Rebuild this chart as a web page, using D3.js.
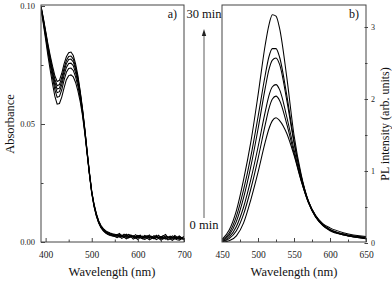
<!DOCTYPE html>
<html><head><meta charset="utf-8">
<script src="https://cdn.jsdelivr.net/npm/d3@7"></script>
<style>
html,body{margin:0;padding:0;background:#fff;}
svg, svg text{font-family:"Liberation Serif","Times New Roman",Tinos,"DejaVu Serif","Noto Serif",serif !important;}
</style></head>
<body>
<svg id="chart" width="392" height="281"></svg>
<script>
// ---- Panel a: absorbance ----
const absWl = [390,395,400,405,410,415,420,425,430,435,440,445,450,455,460,465,470,475,480,485,490,495,500,505,510,515,520,525,530,535,540,545,550,
  555,560,565,570,575,580,585,590,595,600,605,610,615,620,625,630,635,640,645,650,655,660,665,670,675,680,685,690,695,700];
const abs30 = [0.1000,0.0950,0.0895,0.0840,0.0790,0.0745,0.0705,0.0680,0.0685,0.0715,0.0755,0.0785,0.0802,0.0805,0.0790,0.0755,0.0705,0.0640,0.0565,0.0480,0.0385,0.0295,0.0215,0.0160,0.0120,0.0090,0.0070,0.0057,0.0048,0.0042,0.0038,0.0035,0.0033,
  0.0030,0.0036,0.0026,0.0033,0.0025,0.0032,0.0027,0.0022,0.0031,0.0023,0.0029,0.0020,0.0028,0.0022,0.0030,0.0019,0.0027,0.0021,0.0029,0.0018,0.0026,0.0032,0.0019,0.0025,0.0017,0.0028,0.0020,0.0026,0.0016,0.0024];
const abs24 = [0.0998,0.0946,0.0890,0.0832,0.0780,0.0732,0.0690,0.0662,0.0667,0.0697,0.0737,0.0769,0.0786,0.0788,0.0775,0.0742,0.0695,0.0634,0.0560,0.0477,0.0383,0.0293,0.0214,0.0158,0.0118,0.0088,0.0068,0.0055,0.0046,0.0040,0.0036,0.0033,0.0031,
  0.0027,0.0031,0.0024,0.0028,0.0033,0.0022,0.0027,0.0024,0.0020,0.0028,0.0021,0.0025,0.0019,0.0027,0.0021,0.0024,0.0018,0.0029,0.0020,0.0023,0.0017,0.0025,0.0021,0.0018,0.0026,0.0019,0.0016,0.0023,0.0018,0.0021];
const abs18 = [0.0996,0.0942,0.0884,0.0825,0.0771,0.0721,0.0677,0.0648,0.0652,0.0682,0.0723,0.0756,0.0773,0.0775,0.0763,0.0731,0.0686,0.0628,0.0556,0.0474,0.0381,0.0291,0.0212,0.0156,0.0116,0.0086,0.0066,0.0053,0.0044,0.0038,0.0034,0.0031,0.0029,
  0.0032,0.0025,0.0029,0.0023,0.0027,0.0031,0.0021,0.0026,0.0019,0.0024,0.0028,0.0018,0.0023,0.0020,0.0026,0.0017,0.0022,0.0025,0.0016,0.0021,0.0027,0.0018,0.0015,0.0022,0.0019,0.0024,0.0016,0.0020,0.0017,0.0014];
const abs12 = [0.0994,0.0938,0.0878,0.0817,0.0761,0.0709,0.0664,0.0633,0.0637,0.0666,0.0707,0.0740,0.0756,0.0758,0.0747,0.0717,0.0675,0.0620,0.0551,0.0470,0.0378,0.0289,0.0210,0.0154,0.0114,0.0084,0.0064,0.0051,0.0042,0.0036,0.0032,0.0029,0.0027,
  0.0024,0.0029,0.0022,0.0026,0.0020,0.0025,0.0030,0.0019,0.0023,0.0017,0.0025,0.0020,0.0016,0.0022,0.0018,0.0024,0.0015,0.0020,0.0017,0.0023,0.0014,0.0019,0.0022,0.0016,0.0013,0.0020,0.0017,0.0014,0.0019,0.0015];
const abs6 = [0.0992,0.0933,0.0870,0.0806,0.0748,0.0694,0.0646,0.0613,0.0617,0.0645,0.0686,0.0719,0.0735,0.0737,0.0727,0.0700,0.0660,0.0610,0.0545,0.0466,0.0376,0.0287,0.0208,0.0152,0.0112,0.0082,0.0062,0.0049,0.0040,0.0034,0.0030,0.0027,0.0025,
  0.0028,0.0021,0.0025,0.0019,0.0023,0.0017,0.0022,0.0026,0.0016,0.0021,0.0018,0.0014,0.0020,0.0023,0.0015,0.0019,0.0013,0.0018,0.0021,0.0014,0.0017,0.0012,0.0019,0.0015,0.0020,0.0013,0.0016,0.0012,0.0017,0.0013];
const abs0 = [0.0990,0.0925,0.0858,0.0790,0.0728,0.0670,0.0618,0.0584,0.0587,0.0614,0.0653,0.0688,0.0705,0.0708,0.0700,0.0676,0.0640,0.0595,0.0535,0.0460,0.0372,0.0285,0.0206,0.0150,0.0110,0.0080,0.0060,0.0047,0.0038,0.0032,0.0028,0.0025,0.0023,
  0.0018,0.0024,0.0015,0.0021,0.0013,0.0019,0.0023,0.0012,0.0018,0.0010,0.0020,0.0014,0.0011,0.0017,0.0009,0.0015,0.0019,0.0010,0.0016,0.0008,0.0014,0.0017,0.0009,0.0013,0.0007,0.0015,0.0010,0.0008,0.0014,0.0009];
const absSeries = [abs30, abs24, abs18, abs12, abs6, abs0];
const absXTicks = [400,500,600,700];
const absXMinor = [450,550,650];
const absYTicks = [0.00,0.05,0.10];
const absYMinor = [0.025,0.075];

// ---- Panel b: PL ----
const plWl = [450,460,470,480,490,500,510,515,520,525,530,540,550,560,570,580,590,600,620,650];
const pl1 = [0.05,0.18,0.45,0.88,1.40,2.05,2.75,3.02,3.17,3.15,2.98,2.30,1.50,0.95,0.58,0.38,0.27,0.21,0.14,0.09];
const pl2 = [0.04,0.14,0.37,0.74,1.20,1.75,2.33,2.58,2.70,2.70,2.58,2.05,1.42,0.93,0.58,0.38,0.26,0.19,0.12,0.08];
const pl3 = [0.03,0.11,0.30,0.63,1.06,1.58,2.15,2.40,2.54,2.57,2.48,1.98,1.39,0.92,0.58,0.37,0.25,0.18,0.12,0.07];
const pl4 = [0.02,0.08,0.23,0.50,0.88,1.33,1.82,2.04,2.17,2.20,2.13,1.75,1.30,0.88,0.57,0.37,0.25,0.18,0.11,0.07];
const pl5 = [0.015,0.06,0.17,0.40,0.75,1.17,1.64,1.86,2.00,2.04,1.98,1.65,1.25,0.87,0.56,0.36,0.25,0.18,0.11,0.06];
const pl6 = [0.01,0.03,0.10,0.28,0.60,0.98,1.40,1.58,1.70,1.74,1.70,1.52,1.22,0.86,0.56,0.36,0.24,0.17,0.11,0.06];
const plSeries = [pl1, pl2, pl3, pl4, pl5, pl6];
const plXTicks = [450,500,550,600,650];
const plXMinor = [475,525,575,625];
const plYTicks = [0,1,2,3];
const plYMinor = [0.5,1.5,2.5];

const svg = d3.select("#chart");
const frameColor = "#444";
const frameTop = 5, frameBottom = 242;

// scales
const xa = d3.scaleLinear().domain([390,700]).range([41,184]);
const ya = d3.scaleLinear().domain([0,0.10]).range([242,6]);
const xb = d3.scaleLinear().domain([450,650]).range([222,366]);
const yb = d3.scaleLinear().domain([0,3]).range([243,27]);

const defs = svg.append("defs");
defs.append("clipPath").attr("id","clipA").append("rect").attr("x",41).attr("y",frameTop).attr("width",143).attr("height",frameBottom-frameTop);
defs.append("clipPath").attr("id","clipB").append("rect").attr("x",222).attr("y",frameTop).attr("width",144).attr("height",frameBottom-frameTop);

// curves a
const lineA = d3.line().x((d,i)=>xa(absWl[i])).y(d=>ya(d)).curve(d3.curveLinear);
svg.append("g").attr("clip-path","url(#clipA)").selectAll("path").data(absSeries).join("path")
  .attr("d", lineA).attr("fill","none").attr("stroke","#000").attr("stroke-width",1.05);

// curves b
const lineB = d3.line().x((d,i)=>xb(plWl[i])).y(d=>yb(d)).curve(d3.curveMonotoneX);
svg.append("g").attr("clip-path","url(#clipB)").selectAll("path").data(plSeries).join("path")
  .attr("d", lineB).attr("fill","none").attr("stroke","#000").attr("stroke-width",1.05);

// frames
svg.append("rect").attr("x",41).attr("y",frameTop).attr("width",143).attr("height",frameBottom-frameTop)
  .attr("fill","none").attr("stroke",frameColor).attr("stroke-width",1);
svg.append("rect").attr("x",222).attr("y",frameTop).attr("width",144).attr("height",frameBottom-frameTop)
  .attr("fill","none").attr("stroke",frameColor).attr("stroke-width",1);

function styleAxis(g, fs){
  g.attr("font-family", null);
  g.select(".domain").remove();
  g.selectAll("line").attr("stroke",frameColor);
  g.selectAll("text").attr("font-size",fs).attr("fill","#222");
}

// panel a axes
const axA = svg.append("g").attr("transform",`translate(0,${frameBottom})`)
  .call(d3.axisBottom(xa).tickValues(absXTicks).tickFormat(d3.format("d")).tickSizeInner(-4).tickSizeOuter(0).tickPadding(9));
styleAxis(axA, 9.5);
const axAm = svg.append("g").attr("transform",`translate(0,${frameBottom})`)
  .call(d3.axisBottom(xa).tickValues(absXMinor).tickFormat("").tickSizeInner(-2.5).tickSizeOuter(0));
styleAxis(axAm, 9);
const ayA = svg.append("g").attr("transform","translate(41,0)")
  .call(d3.axisLeft(ya).tickValues(absYTicks).tickFormat(d3.format(".2f")).tickSizeInner(-4).tickSizeOuter(0).tickPadding(6));
styleAxis(ayA, 8.5);
const ayAm = svg.append("g").attr("transform","translate(41,0)")
  .call(d3.axisLeft(ya).tickValues(absYMinor).tickFormat("").tickSizeInner(-2.5).tickSizeOuter(0));
styleAxis(ayAm, 8.5);

// panel b axes
const axB = svg.append("g").attr("transform",`translate(0,${frameBottom})`)
  .call(d3.axisBottom(xb).tickValues(plXTicks).tickFormat(d3.format("d")).tickSizeInner(-4).tickSizeOuter(0).tickPadding(9));
styleAxis(axB, 9.5);
const axBm = svg.append("g").attr("transform",`translate(0,${frameBottom})`)
  .call(d3.axisBottom(xb).tickValues(plXMinor).tickFormat("").tickSizeInner(-2.5).tickSizeOuter(0));
styleAxis(axBm, 9);
const ayB = svg.append("g").attr("transform","translate(366,0)")
  .call(d3.axisRight(yb).tickValues(plYTicks).tickFormat(d3.format("d")).tickSizeInner(2).tickSizeOuter(0).tickPadding(3));
styleAxis(ayB, 8);
ayB.selectAll("line").attr("x1",-1.5);
const ayBm = svg.append("g").attr("transform","translate(366,0)")
  .call(d3.axisRight(yb).tickValues(plYMinor).tickFormat("").tickSizeInner(1.5).tickSizeOuter(0));
styleAxis(ayBm, 8);
ayBm.selectAll("line").attr("x1",-1);

// titles
function label(x, y, txt, size, anchor, rot){
  const t = svg.append("text").attr("text-anchor",anchor).attr("font-size",size).attr("fill","#111").text(txt);
  if (rot) t.attr("transform",`translate(${x},${y}) rotate(${rot})`); else t.attr("x",x).attr("y",y);
  return t;
}
label(112, 276, "Wavelength (nm)", 12.5, "middle");
label(294, 276, "Wavelength (nm)", 12.5, "middle");
label(14, 124, "Absorbance", 12.5, "middle", -90);
label(389, 124, "PL intensity (arb. units)", 12, "middle", -90);

// panel labels
label(177, 18, "a)", 12, "end");
label(359, 18, "b)", 12, "end");

// time arrow
label(204, 18, "30 min", 12.5, "middle");
label(204, 229, "0 min", 12.5, "middle");
svg.append("line").attr("x1",204).attr("x2",204).attr("y1",218).attr("y2",34).attr("stroke","#333").attr("stroke-width",0.8);
svg.append("path").attr("d","M204,29 L201.8,36 L206.2,36 Z").attr("fill","#222");
</script>
</body></html>
